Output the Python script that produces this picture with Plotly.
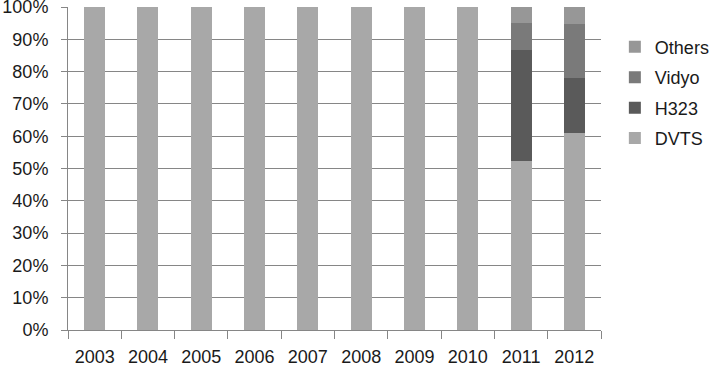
import plotly.graph_objects as go

years = ["2003", "2004", "2005", "2006", "2007", "2008", "2009", "2010", "2011", "2012"]
dvts = [100, 100, 100, 100, 100, 100, 100, 100, 52.4, 61.0]
h323 = [0, 0, 0, 0, 0, 0, 0, 0, 34.2, 16.9]
vidyo = [0, 0, 0, 0, 0, 0, 0, 0, 8.6, 16.9]
others = [0, 0, 0, 0, 0, 0, 0, 0, 4.8, 5.2]

series = [
    ("DVTS", dvts, "#a8a8a8"),
    ("H323", h323, "#5a5a5a"),
    ("Vidyo", vidyo, "#7a7a7a"),
    ("Others", others, "#979797"),
]

fig = go.Figure()
for i, (name, vals, col) in enumerate(series):
    fig.add_trace(go.Bar(x=years, y=vals, name=name, legendgroup=name,
                         legendrank=1000 - i,
                         marker=dict(color=col, line=dict(width=0))))

font = "Liberation Sans, Arial, sans-serif"
fig.update_layout(
    barmode="stack",
    bargap=0.605,
    width=714, height=366,
    margin=dict(l=68, r=113, t=7, b=36, autoexpand=False),
    paper_bgcolor="white", plot_bgcolor="white",
    font=dict(family=font, size=18, color="#1a1a1a"),
    legend=dict(
        x=1.026, y=0.933, xanchor="left", yanchor="top",
        traceorder="grouped", font=dict(size=18),
        tracegroupgap=4, itemwidth=30,
    ),
    xaxis=dict(
        type="category", showline=True, linecolor="#868686", linewidth=1,
        ticks="outside", tickson="boundaries", ticklen=8, tickcolor="#868686",
        showgrid=False, automargin=False, ticklabelstandoff=10,
        ticklabeloverflow="allow",
    ),
    yaxis=dict(
        range=[0, 100], dtick=10, ticksuffix="%",
        showline=True, linecolor="#868686", linewidth=1,
        ticks="outside", ticklen=6, tickcolor="#868686",
        showgrid=True, gridcolor="#868686", gridwidth=1, zeroline=False,
        automargin=False, ticklabelstandoff=9, ticklabeloverflow="allow",
    ),
)

fig.write_html("out.html", config={"displayModeBar": False},
               post_script="document.body.style.margin='0';document.body.style.overflow='hidden';")
